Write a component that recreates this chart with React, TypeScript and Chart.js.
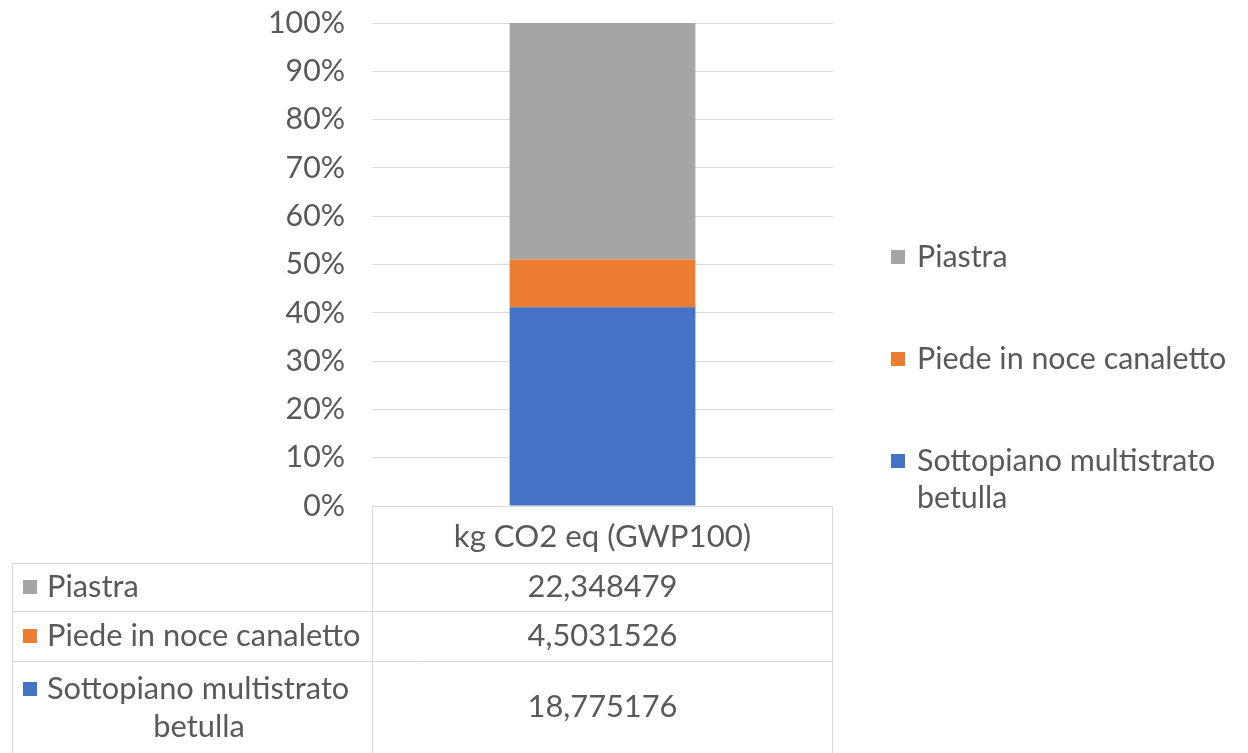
import { useEffect, useRef } from 'react';
import { Chart, registerables } from 'chart.js';

Chart.register(...registerables);

// Single category, three stacked components (normalised to 100%)
const categories = ['kg CO2 eq (GWP100)'];
const seriesNames = ['Piastra', 'Piede in noce canaletto', 'Sottopiano multistrato betulla'];
const seriesValues = [22.348479, 4.5031526, 18.775176];
const seriesColors = ['#A5A5A5', '#ED7D31', '#4472C4'];
// Wrapped label lines used in the legend and the data table
const seriesLabelLines = [['Piastra'], ['Piede in noce canaletto'], ['Sottopiano multistrato', 'betulla']];

const FAMILY = 'Lato, "Open Sans", sans-serif';
const TEXT = '#595959';
const RULE = '#d9d9d9';

const W = 1248;
const H = 753;

function fitSize(text: string, width: number): number {
  const c = document.createElement('canvas').getContext('2d')!;
  c.font = `100px ${FAMILY}`;
  const w = c.measureText(text).width;
  return Math.round((100 * width) / w * 10) / 10;
}

function formatValue(v: number): string {
  return String(v).replace('.', ',');
}

export default function App() {
  const ref = useRef<HTMLCanvasElement | null>(null);

  useEffect(() => {
    if (!ref.current) return;
    const total = seriesValues.reduce((a, b) => a + b, 0);
    const tickSize = fitSize('100%', 77);
    const legendSize = fitSize('Piede in noce canaletto', 309);
    const tableSize = fitSize('Piede in noce canaletto', 314);
    const headSize = fitSize(categories[0], 297);

    // stacking goes bottom-up, so the last series is stacked first
    const order = [2, 1, 0];
    const datasets = order.map((i) => ({
      label: seriesNames[i],
      data: [(seriesValues[i] / total) * 100],
      backgroundColor: seriesColors[i],
      borderWidth: 0,
      categoryPercentage: 1,
      barPercentage: 0.403,
    }));

    const tablePlugin = {
      id: 'dataTableAndLegend',
      afterDraw(chart: any) {
        const ctx = chart.ctx as CanvasRenderingContext2D;
        const { left, right, bottom } = chart.chartArea;
        const tableLeft = 12;
        const rowLines = [563, 611, 661];
        const tableBottom = 753;
        const cx = (left + right) / 2;

        ctx.save();
        ctx.strokeStyle = RULE;
        ctx.lineWidth = 1;
        ctx.beginPath();
        // header cell sides
        ctx.moveTo(Math.round(left) + 0.5, bottom);
        ctx.lineTo(Math.round(left) + 0.5, tableBottom);
        ctx.moveTo(Math.round(right) - 0.5, bottom);
        ctx.lineTo(Math.round(right) - 0.5, tableBottom);
        // row rules
        for (const y of rowLines) {
          ctx.moveTo(tableLeft, y + 0.5);
          ctx.lineTo(right, y + 0.5);
        }
        ctx.moveTo(tableLeft + 0.5, rowLines[0]);
        ctx.lineTo(tableLeft + 0.5, tableBottom);
        ctx.stroke();

        ctx.fillStyle = TEXT;
        ctx.textBaseline = 'middle';
        ctx.textAlign = 'center';
        ctx.font = `${headSize}px ${FAMILY}`;
        ctx.fillText(categories[0], cx, 537);

        // table rows: key square + label, value centred
        ctx.font = `${tableSize}px ${FAMILY}`;
        const rowMid = [587, 636, 707];
        seriesNames.forEach((_, i) => {
          const lines = seriesLabelLines[i];
          const y0 = lines.length > 1 ? rowMid[i] - 18 : rowMid[i];
          ctx.fillStyle = seriesColors[i];
          ctx.fillRect(23, y0 - 7, 14, 14);
          ctx.fillStyle = TEXT;
          ctx.textAlign = 'left';
          ctx.fillText(lines[0], 47, y0);
          if (lines.length > 1) {
            ctx.textAlign = 'center';
            ctx.fillText(lines[1], 199, y0 + 38);
          }
          ctx.textAlign = 'center';
          ctx.fillText(formatValue(seriesValues[i]), cx, rowMid[i]);
        });

        // legend on the right
        ctx.font = `${legendSize}px ${FAMILY}`;
        ctx.textAlign = 'left';
        const legendMid = [257, 359, 461];
        seriesNames.forEach((_, i) => {
          const y = legendMid[i];
          ctx.fillStyle = seriesColors[i];
          ctx.fillRect(891, y - 7, 14, 14);
          ctx.fillStyle = TEXT;
          seriesLabelLines[i].forEach((line, k) => {
            ctx.fillText(line, 917, y + k * 37);
          });
        });
        ctx.restore();
      },
    };

    const chart = new Chart(ref.current, {
      type: 'bar',
      data: { labels: categories, datasets },
      options: {
        responsive: false,
        animation: false,
        events: [],
        layout: { padding: { left: 0, top: 23, right: W - 833, bottom: H - 506 } },
        plugins: { legend: { display: false }, tooltip: { enabled: false } },
        scales: {
          x: { stacked: true, display: false },
          y: {
            stacked: true,
            min: 0,
            max: 100,
            border: { display: false },
            grid: { color: RULE, lineWidth: 1, drawTicks: false },
            afterFit: (s: any) => {
              s.width = 372;
              s.paddingTop = 0;
              s.paddingBottom = 0;
            },
            ticks: {
              stepSize: 10,
              padding: 27,
              color: TEXT,
              font: { family: FAMILY, size: tickSize },
              callback: (v: any) => `${v}%`,
            },
          },
        },
      },
      plugins: [tablePlugin],
    });
    return () => chart.destroy();
  }, []);

  return (
    <div style={{ position: 'absolute', left: 0, top: 0, width: W, height: H, background: '#fff' }}>
      <canvas ref={ref} width={W} height={H} style={{ display: 'block', width: W, height: H }} />
    </div>
  );
}
